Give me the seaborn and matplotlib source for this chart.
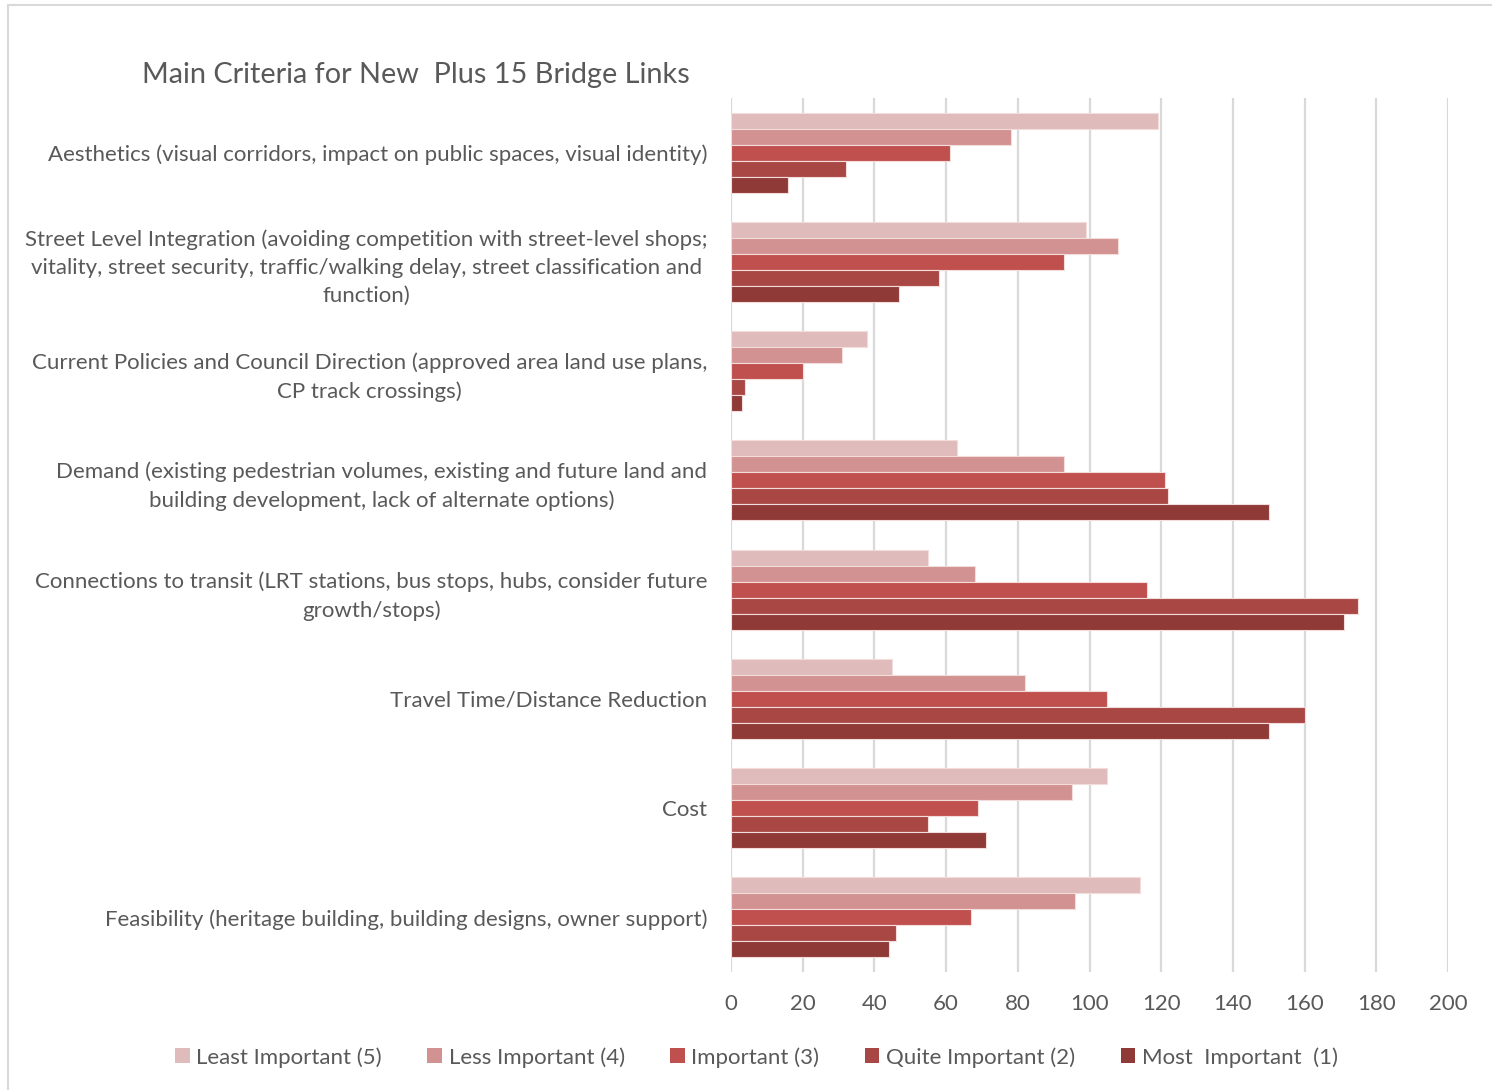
import matplotlib
matplotlib.use("Agg")
import matplotlib.pyplot as plt
from matplotlib.patches import Patch, Rectangle
import pandas as pd
import seaborn as sns

# Criteria (y categories), top to bottom
criteria = [
    "Aesthetics (visual corridors, impact on public spaces, visual identity)",
    "Street Level Integration (avoiding competition with street-level shops;\n"
    "vitality, street security, traffic/walking delay, street classification and\n"
    "function)",
    "Current Policies and Council Direction (approved area land use plans,\n"
    "CP track crossings)",
    "Demand (existing pedestrian volumes, existing and future land and\n"
    "building development, lack of alternate options)",
    "Connections to transit (LRT stations, bus stops, hubs, consider future\n"
    "growth/stops)",
    "Travel Time/Distance Reduction",
    "Cost",
    "Feasibility (heritage building, building designs, owner support)",
]

series = [
    "Least Important (5)",
    "Less Important (4)",
    "Important (3)",
    "Quite Important (2)",
    "Most  Important  (1)",
]

least_important = [119, 99, 38, 63, 55, 45, 105, 114]
less_important = [78, 108, 31, 93, 68, 82, 95, 96]
important = [61, 93, 20, 121, 116, 105, 69, 67]
quite_important = [32, 58, 4, 122, 175, 160, 55, 46]
most_important = [16, 47, 3, 150, 171, 150, 71, 44]

colors = ["#E0BBBB", "#D29291", "#C0504D", "#A94744", "#8F3A37"]

values = [least_important, less_important, important, quite_important, most_important]
rows = []
for s, vals in zip(series, values):
    for c, v in zip(criteria, vals):
        rows.append({"criterion": c, "rank": s, "count": v})
df = pd.DataFrame(rows)

sns.set_theme(style="white")
plt.rcParams["font.family"] = ["Lato", "DejaVu Sans"]
text_color = "#595959"
fs = 16

fig = plt.figure(figsize=(14.92, 10.90), dpi=100)
ax = fig.add_axes([731 / 1492, 1 - 972 / 1090, 717 / 1492, 874 / 1090])

sns.barplot(
    data=df, y="criterion", x="count", hue="rank",
    order=criteria, hue_order=series, palette=colors, saturation=1,
    orient="h", width=0.73, edgecolor="#F2DCDC", linewidth=0.8,
    legend=False, ax=ax,
)

ax.set_xlim(0, 200)
ax.set_ylim(7.5, -0.5)
ax.set_xticks(range(0, 201, 20))
ax.xaxis.grid(True, color="#D9D9D9", linewidth=1.6)
ax.set_axisbelow(True)
for sp in ax.spines.values():
    sp.set_visible(False)
ax.set_xlabel("")
ax.set_ylabel("")
ax.tick_params(axis="x", length=0, pad=16, labelsize=fs, labelcolor=text_color)
ax.tick_params(axis="y", length=0, pad=17, labelsize=fs, labelcolor=text_color)
for lbl in ax.get_yticklabels():
    lbl.set_multialignment("center")
    lbl.set_linespacing(1.5)

fig.text(142 / 1492, 1 - 75 / 1090, "Main Criteria for New  Plus 15 Bridge Links",
         fontsize=20.8, color=text_color, ha="left", va="center")

handles = [Patch(facecolor=c, edgecolor="none") for c in colors]
fig.legend(handles, series, loc="center", bbox_to_anchor=(0.507, 0.030),
           ncol=5, frameon=False, fontsize=fs, labelcolor=text_color,
           handlelength=0.65, handleheight=0.65, handletextpad=0.3,
           columnspacing=2.05)

# Thin chart-area border
fig.patches.append(Rectangle((8 / 1492, -0.05), 1.2, 1 - 5 / 1090 + 0.05,
                             transform=fig.transFigure, fill=False,
                             edgecolor="#D9D9D9", linewidth=1.5))

fig.savefig("out.png", dpi=100)
